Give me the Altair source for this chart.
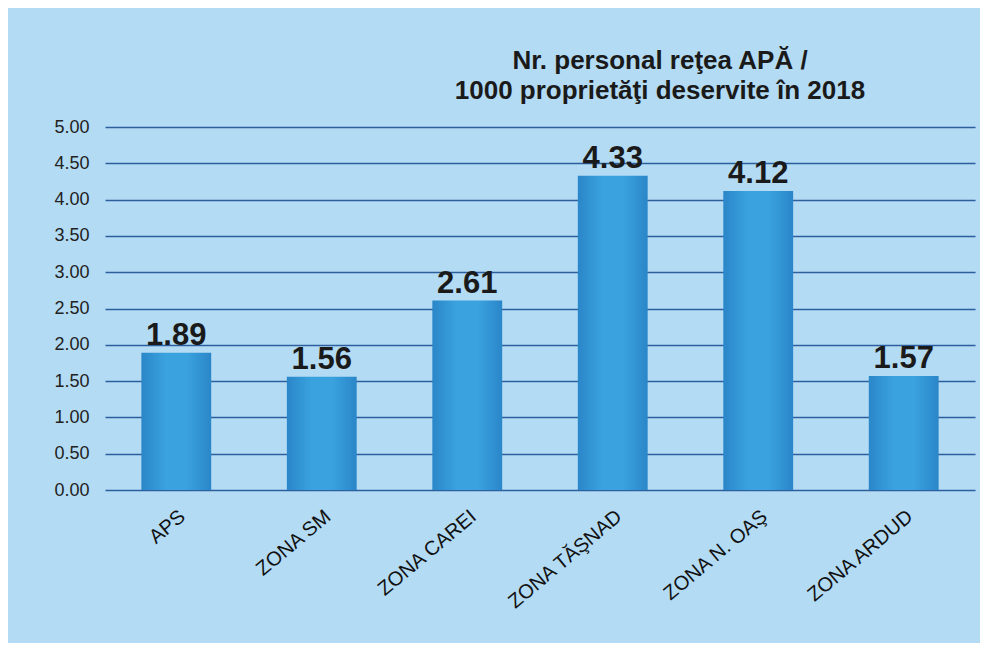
import altair as alt
import pandas as pd

categories = ["APS", "ZONA SM", "ZONA CAREI", "ZONA TĂŞNAD", "ZONA N. OAŞ", "ZONA ARDUD"]
values = [1.89, 1.56, 2.61, 4.33, 4.12, 1.57]
labels = ["1.89", "1.56", "2.61", "4.33", "4.12", "1.57"]
y_ticks = [0, 0.5, 1, 1.5, 2, 2.5, 3, 3.5, 4, 4.5, 5]

df = pd.DataFrame({"cat": categories, "val": values, "lab": labels})

x_enc = alt.X("cat:N", sort=categories, title=None,
              scale=alt.Scale(paddingInner=0.52, paddingOuter=0.25),
              axis=alt.Axis(labelAngle=-40, labelFontSize=20, labelColor="#111111",
                            labelFont="Liberation Sans", domain=False, ticks=False,
                            labelPadding=16, labelLimit=250))
y_enc = alt.Y("val:Q", title=None, scale=alt.Scale(domain=[0, 5]),
              axis=alt.Axis(values=y_ticks, format=".2f", labelFontSize=18,
                            labelColor="#222222", labelFont="Liberation Sans",
                            labelOverlap=False,
                            domain=False, ticks=False, labelPadding=16, minExtent=92,
                            gridColor="#2c5f9e", gridWidth=1.5, gridOpacity=1))

grad = alt.Gradient(gradient="linear", x1=0, x2=1, y1=0, y2=0,
                    stops=[alt.GradientStop(color="#2a86c8", offset=0),
                           alt.GradientStop(color="#3aa2df", offset=0.35),
                           alt.GradientStop(color="#3aa2df", offset=0.65),
                           alt.GradientStop(color="#2a86c8", offset=1)])

base = alt.Chart(df).encode(x=x_enc, y=y_enc)
bars = base.mark_bar(color=grad)
text = base.mark_text(dy=-17, fontSize=31, fontWeight="bold",
                      font="Liberation Sans", color="#1a1a1a").encode(text="lab:N")

chart = (bars + text).properties(
    width=870, height=363,
    background="#b3dbf4",
    padding={"left": 5, "right": 5, "top": 40, "bottom": 30},
    title=alt.TitleParams(
        text=["Nr. personal reţea APĂ /", "1000 proprietăţi deservite în 2018"],
        fontSize=26, fontWeight="bold", font="Liberation Sans", color="#1a1a1a",
        anchor="middle", dx=120, offset=14, lineHeight=30),
).configure_view(stroke=None)

chart.save("out.html", embed_options={"renderer": "svg", "actions": False})
